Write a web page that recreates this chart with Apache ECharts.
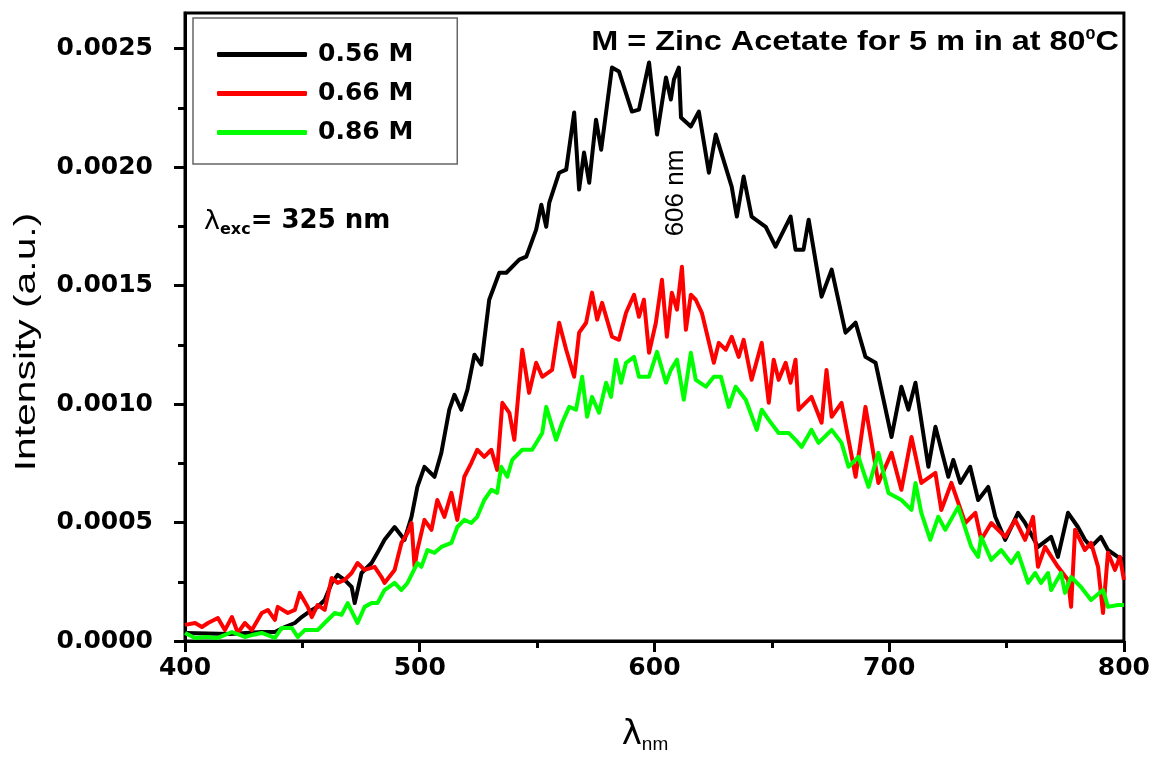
<!DOCTYPE html>
<html><head><meta charset="utf-8">
<script src="https://cdn.jsdelivr.net/npm/echarts@6/dist/echarts.min.js"></script>
<style>html,body{margin:0;padding:0;background:#fff}#c{width:1153px;height:758px}</style>
</head><body><div id="c"></div>
<script>
const seriesNames = ['0.56 M', '0.66 M', '0.86 M'];
const seriesColors = ['#000000', '#ff0000', '#00ff00'];
const xTickValues = [400, 500, 600, 700, 800];
const yTickValues = [0, 0.0005, 0.001, 0.0015, 0.002, 0.0025];
const yMinorTickValues = [0.00025, 0.00075, 0.00125, 0.00175, 0.00225];

// 0.56 M (black)
const wl056 = [400,419.1,432.7,438.3,442.5,446.8,449.7,454,456.5,459.5,462.5,465,468,471,472.3,475.2,479.5,482,485,489.3,493.5,496.5,499,502,506.3,509.2,512.6,514.8,517.7,520.3,523.3,526.2,529.6,533.9,536.9,542.4,545.4,549.6,551.8,553.9,555.2,559.4,562.4,565.8,567.9,570,572.2,575.1,577.3,581.9,584.9,590.4,593.4,597.7,601.1,604.9,607,608.3,610.4,611.3,615.5,618.9,623.2,626.1,632.9,635.1,638,641.4,647.4,651.6,658,660.1,663.5,665.7,671.2,675.5,681.4,685.7,689.9,694.2,701,705.2,708.2,711.2,716.7,719.7,725.2,727.3,730.3,734.5,737.9,742.2,745.2,749.4,754.9,757.9,763.4,769,771.9,776.2,780.4,783.4,786,790.2,793.2,797.4,800];
const int056 = [0.000034,0.00003,0.000038,0.000038,0.000059,0.000076,0.000101,0.000131,0.000144,0.000173,0.000245,0.000279,0.000258,0.000228,0.00016,0.000287,0.000329,0.000372,0.000427,0.000481,0.000427,0.000524,0.00065,0.000735,0.000693,0.000794,0.000976,0.001039,0.000976,0.00106,0.001208,0.001166,0.00144,0.001554,0.001554,0.001609,0.001622,0.001736,0.001841,0.001748,0.00185,0.001976,0.001989,0.00223,0.001905,0.002061,0.001934,0.0022,0.002073,0.00242,0.002403,0.002234,0.002242,0.002441,0.002137,0.002378,0.002285,0.002369,0.00242,0.002209,0.002171,0.002234,0.001976,0.002137,0.001917,0.001791,0.00196,0.001791,0.001748,0.001664,0.001791,0.001651,0.001651,0.001778,0.001453,0.001567,0.001301,0.001343,0.001199,0.001174,0.000861,0.001073,0.000976,0.00109,0.000735,0.000904,0.000693,0.000764,0.000667,0.000735,0.000595,0.00065,0.000524,0.000427,0.000541,0.000498,0.000397,0.000439,0.000355,0.000541,0.000481,0.000427,0.000397,0.000439,0.000384,0.000355,0.000342];

// 0.66 M (red)
const wl066 = [400,404.3,407.2,409.8,414,417,420,422.5,425.5,428.5,432.7,435.3,438.3,439.5,443.8,446.8,448.9,452.3,454,456.5,459.5,462.5,465,468,471,473.5,476.5,480.8,483.7,485,489.3,492.2,494.8,496.5,497.8,499,502,505,507.5,510.5,513.5,516,519,522,524.5,527.5,530.5,533,535.2,538.2,540.3,543.7,546.6,549.6,552.2,556.4,559.4,562.4,565.8,567.9,570.9,573.4,575.6,577.7,581.9,584.9,587.9,591.3,593.4,595.5,597.7,600.6,603.2,605.3,607.4,609.6,611.7,613.4,615.5,617.6,620.2,625.3,627.4,630.4,632.9,635.9,638,641.4,645.7,648.7,650.8,652.9,655.9,658,660.1,661.4,666.9,671.2,673.3,675.5,679.7,685.7,689.9,695.4,701,705.2,709.5,713.7,719.7,722.2,726.5,732.4,736.7,739.2,743.5,749.4,753.7,757.9,761.3,763.4,766.4,771.9,776.2,777.5,779.2,783.4,786,789,791.1,793.2,796.2,798.3,800];
const int066 = [0.000068,0.000076,0.000059,0.000076,0.000097,0.000046,0.000101,0.000034,0.000076,0.000046,0.000118,0.000131,0.000089,0.000144,0.000118,0.000131,0.000203,0.000144,0.000101,0.000152,0.000131,0.000266,0.000245,0.000258,0.000287,0.000329,0.0003,0.000313,0.00027,0.000245,0.0003,0.000414,0.000456,0.000498,0.000313,0.000384,0.000511,0.000469,0.000595,0.000524,0.000625,0.000511,0.000693,0.000752,0.000807,0.000777,0.000807,0.000722,0.001005,0.000963,0.000849,0.001229,0.001047,0.001174,0.001115,0.001144,0.001343,0.001229,0.001115,0.001301,0.001343,0.00147,0.001356,0.001427,0.001284,0.001271,0.001385,0.001461,0.001368,0.00144,0.001216,0.001343,0.001524,0.001284,0.00147,0.001398,0.001579,0.001313,0.001461,0.00144,0.001385,0.001174,0.001258,0.001229,0.001284,0.001199,0.001271,0.001102,0.001258,0.001005,0.001187,0.001102,0.001174,0.00109,0.001187,0.000976,0.00103,0.000921,0.001144,0.000946,0.001005,0.000693,0.000988,0.000667,0.000794,0.000638,0.000861,0.000667,0.000709,0.000553,0.000667,0.000498,0.000541,0.000427,0.000498,0.000439,0.000511,0.000427,0.000524,0.000313,0.000397,0.000313,0.000258,0.000144,0.000469,0.000384,0.000414,0.000313,0.000118,0.000372,0.0003,0.000355,0.000258];

// 0.86 M (green)
const wl086 = [400,404.3,408.5,414,420,425.5,428.5,432.7,438.3,441.2,445.5,448,451,456.5,459.5,463.8,466.7,469.3,473.5,476.5,479.5,482,485,489.3,492.2,494.8,499,500.7,503.3,506.3,509.2,513.5,516,519,522,524.5,527.5,530.5,533,534.7,537.3,539.4,543.7,547.9,552.2,553.9,558.1,560.7,563.7,566.6,569.2,571.3,573.4,576.4,579.4,581.5,583.6,585.8,587.9,591.3,593.4,597.7,601.1,604.9,607,609.6,612.5,615.5,617.6,621.9,625.3,628.3,631.7,634.6,638.9,643.6,645.7,648.7,652.9,657.2,660.1,662.7,666.9,669.9,675.5,679.7,682.7,686.9,691.2,695.4,699.7,705.2,709.5,711.2,713.7,717.5,720.9,723.9,729.4,735,737.9,739.2,743.5,747.7,752,754.9,759.2,762.2,764.7,767.7,769,773.2,774.9,777.5,781.7,786,791.1,793.2,797.4,800];
const int086 = [0.000034,0.000013,0.000017,0.000013,0.000038,0.000017,0.000025,0.000034,0.000013,0.000055,0.000055,0.000017,0.000046,0.000046,0.000076,0.000118,0.00011,0.00016,0.000076,0.000144,0.00016,0.00016,0.000215,0.000245,0.000215,0.000245,0.000329,0.000313,0.000384,0.000372,0.000397,0.000414,0.000481,0.000511,0.000498,0.000524,0.000595,0.000638,0.000625,0.000735,0.000693,0.000764,0.000807,0.000807,0.000878,0.000988,0.000849,0.000921,0.000988,0.000976,0.001115,0.000946,0.00103,0.000963,0.00109,0.00103,0.001187,0.00109,0.001174,0.001199,0.001115,0.001115,0.00122,0.00109,0.001144,0.001187,0.001018,0.001216,0.001102,0.001073,0.001115,0.001115,0.000988,0.001073,0.001018,0.000891,0.000976,0.000933,0.000878,0.000878,0.000849,0.000819,0.000891,0.000836,0.000891,0.000836,0.000735,0.000777,0.00065,0.000794,0.000625,0.000595,0.000553,0.000667,0.000541,0.000427,0.000524,0.000469,0.000566,0.000397,0.000355,0.000439,0.000342,0.000384,0.000329,0.000372,0.000245,0.000287,0.000245,0.000287,0.000215,0.000287,0.000203,0.00027,0.000228,0.000173,0.000215,0.000144,0.000152,0.000152];

const wls = [wl056, wl066, wl086];
const ints = [int056, int066, int086];

const chart = echarts.init(document.getElementById('c'), null, {renderer: 'canvas'});
const tickFont = {fontFamily: 'DejaVu Sans', fontWeight: 'bold', fontSize: 25, color: '#000'};

const option = {
  backgroundColor: '#fff',
  animation: false,
  grid: {left: 185, top: 13, right: 27, bottom: 117, show: true, borderColor: '#000', borderWidth: 3, backgroundColor: 'transparent'},
  legend: {
    orient: 'vertical', left: 193, top: 18,
    padding: [24, 44, 19, 24], itemGap: 14, itemWidth: 90, itemHeight: 5,
    icon: 'roundRect',
    borderColor: '#666', borderWidth: 1.5, backgroundColor: '#fff',
    textStyle: Object.assign({padding: [0, 0, 0, 6], lineHeight: 25}, tickFont),
    data: seriesNames
  },
  xAxis: {
    type: 'value', min: 400, max: 800, interval: 100,
    axisLine: {show: true, lineStyle: {color: '#000', width: 3}},
    axisTick: {show: true, length: 11, lineStyle: {color: '#000', width: 3}},
    minorTick: {show: true, splitNumber: 2, length: 7, lineStyle: {color: '#000', width: 3}},
    axisLabel: Object.assign({margin: 15, customValues: xTickValues}, tickFont),
    splitLine: {show: false}
  },
  yAxis: [{
    type: 'value', min: 0, max: 0.00265, position: 'left',
    axisLine: {show: true, lineStyle: {color: '#000', width: 3}},
    axisTick: {show: true, length: 11, customValues: yTickValues, lineStyle: {color: '#000', width: 3}},
    axisLabel: Object.assign({margin: 32, customValues: yTickValues, formatter: v => v.toFixed(4)}, tickFont),
    splitLine: {show: false}
  }, {
    type: 'value', min: 0, max: 0.00265, position: 'left',
    axisLine: {show: false},
    axisTick: {show: true, length: 7, customValues: yMinorTickValues, lineStyle: {color: '#000', width: 3}},
    axisLabel: {show: false},
    splitLine: {show: false}
  }],
  series: seriesNames.map((name, k) => ({
    name: name, type: 'line', symbol: 'none', yAxisIndex: 0,
    lineStyle: {color: seriesColors[k], width: 4, join: 'round'},
    itemStyle: {color: seriesColors[k]},
    data: wls[k].map((w, i) => [w, ints[k][i]])
  })),
  graphic: [
    {type: 'text', x: 1119, y: 43, scaleX: 1.2, z: 100,
     style: {text: '{a|M = Zinc Acetate for 5 m in at 80}{s|0}{a|C}', fill: '#000', align: 'right', verticalAlign: 'middle',
       rich: {a: {fontFamily: 'Liberation Sans', fontWeight: 'bold', fontSize: 27, lineHeight: 32, fill: '#000'},
              s: {fontFamily: 'Liberation Sans', fontWeight: 'bold', fontSize: 15, lineHeight: 15, verticalAlign: 'top', fill: '#000'}}}},
    {type: 'text', left: 204, top: 208, z: 100,
     style: {text: '{l|λ}{s|exc}{a|= 325 nm}', fill: '#000',
       rich: {l: {fontFamily: 'DejaVu Sans', fontSize: 27, lineHeight: 32, fill: '#000'},
              s: {fontFamily: 'DejaVu Sans', fontWeight: 'bold', fontSize: 16, lineHeight: 14, verticalAlign: 'bottom', fill: '#000'},
              a: {fontFamily: 'DejaVu Sans', fontWeight: 'bold', fontSize: 26, lineHeight: 32, fill: '#000'}}}},
    {type: 'text', x: 676, y: 193, rotation: Math.PI / 2, z: 100,
     style: {text: '606 nm', fontFamily: 'Liberation Sans', fontSize: 26, fill: '#000', align: 'center', verticalAlign: 'middle'}},
    {type: 'text', x: 27, y: 342, rotation: Math.PI / 2, scaleX: 1.36, z: 100,
     style: {text: 'Intensity (a.u.)', fontFamily: 'Liberation Sans', fontSize: 30, fill: '#000', align: 'center', verticalAlign: 'middle'}},
    {type: 'text', x: 645, y: 735, z: 100,
     style: {text: '{l|λ}{s|nm}', align: 'center', verticalAlign: 'middle', fill: '#000',
       rich: {l: {fontFamily: 'DejaVu Sans', fontSize: 34, lineHeight: 38, fill: '#000'},
              s: {fontFamily: 'Liberation Sans', fontSize: 19, lineHeight: 18, verticalAlign: 'bottom', fill: '#000'}}}}
  ]
};
chart.setOption(option);
</script></body></html>
